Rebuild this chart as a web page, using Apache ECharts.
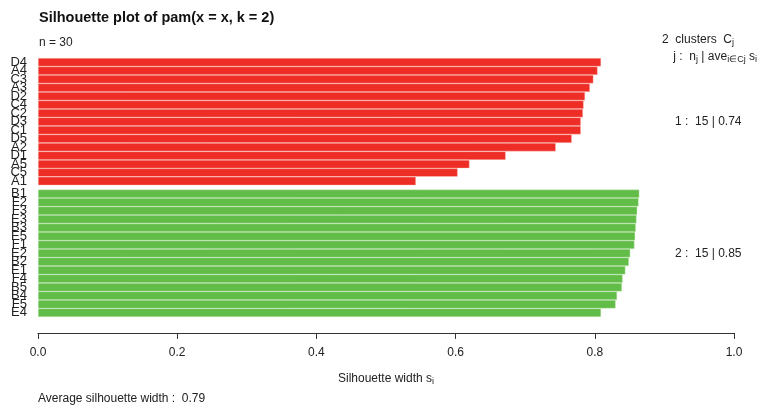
<!DOCTYPE html>
<html>
<head>
<meta charset="utf-8">
<script src="https://cdn.jsdelivr.net/npm/echarts@6/dist/echarts.min.js"></script>
<style>
  html, body { margin: 0; padding: 0; background: #ffffff; }
  #chart { width: 760px; height: 408px; }
</style>
</head>
<body>
<div id="chart"></div>
<script>
// Silhouette widths per observation, sorted within each cluster (top to bottom)
const cluster1Names = ['D4','A4','C3','A3','D2','C4','C2','D3','C1','D5','A2','D1','A5','C5','A1'];
const cluster1Widths = [0.809,0.804,0.798,0.793,0.786,0.784,0.783,0.780,0.780,0.767,0.744,0.672,0.620,0.603,0.543];
const cluster2Names = ['B1','F2','F3','E3','B3','E5','F1','E2','B2','E1','F4','B5','B4','F5','E4'];
const cluster2Widths = [0.864,0.863,0.861,0.860,0.859,0.858,0.857,0.851,0.849,0.844,0.840,0.839,0.832,0.830,0.809];
const xTicks = [0, 0.2, 0.4, 0.6, 0.8, 1.0];

const mean = a => a.reduce((s, v) => s + v, 0) / a.length;
const avg1 = mean(cluster1Widths);
const avg2 = mean(cluster2Widths);
const avgAll = mean(cluster1Widths.concat(cluster2Widths));
const nTotal = cluster1Widths.length + cluster2Widths.length;

const FONT = '"Liberation Sans", Arial, sans-serif';
const RED = '#EE2E26';
const GREEN = '#62BD48';

// layout: one bar unit, clusters separated by half a unit
const plotLeft = 38, plotWidth = 696, plotTop = 58;
const unit = 8.49;
const h1 = cluster1Widths.length * unit;
const h2 = cluster2Widths.length * unit;
const top2 = plotTop + h1 + unit * 0.5;

const chart = echarts.init(document.getElementById('chart'), null, { renderer: 'canvas' });

function catAxis(idx, names) {
  return {
    type: 'category', gridIndex: idx, data: names, inverse: true,
    axisLine: { show: false }, axisTick: { show: false },
    axisLabel: { interval: 0, margin: 11, fontFamily: FONT, fontSize: 13, color: '#222' }
  };
}

const base = { font: '12px ' + FONT, fill: '#222' };
const sub = { font: '9px ' + FONT, fill: '#222', padding: [6, 0, 0, 0] };

function label(x, y, text, align, rich) {
  return {
    type: 'text', x: x, y: y,
    style: { text: text, rich: rich || null, font: '12px ' + FONT, fill: '#222', align: align || 'left', verticalAlign: 'middle' }
  };
}

chart.setOption({
  animation: false,
  backgroundColor: '#ffffff',
  grid: [
    { left: plotLeft, width: plotWidth, top: plotTop, height: h1 },
    { left: plotLeft, width: plotWidth, top: top2, height: h2 }
  ],
  xAxis: [
    { type: 'value', gridIndex: 0, min: 0, max: 1, show: false },
    {
      type: 'value', gridIndex: 1, min: 0, max: 1, interval: 0.2, offset: 16,
      splitLine: { show: false },
      axisLine: { show: true, lineStyle: { color: '#333', width: 1 } },
      axisTick: { show: true, length: 6, lineStyle: { color: '#333' } },
      axisLabel: {
        margin: 14, fontFamily: FONT, fontSize: 12, color: '#222',
        formatter: v => xTicks.some(t => Math.abs(t - v) < 1e-9) ? v.toFixed(1) : ''
      }
    }
  ],
  yAxis: [catAxis(0, cluster1Names), catAxis(1, cluster2Names)],
  series: [
    {
      type: 'bar', xAxisIndex: 0, yAxisIndex: 0, data: cluster1Widths,
      barCategoryGap: '0%',
      itemStyle: { color: RED, borderColor: 'rgba(255,215,210,0.75)', borderWidth: 0.5 }
    },
    {
      type: 'bar', xAxisIndex: 1, yAxisIndex: 1, data: cluster2Widths,
      barCategoryGap: '0%',
      itemStyle: { color: GREEN, borderColor: 'rgba(215,240,205,0.75)', borderWidth: 0.5 }
    }
  ],
  graphic: [
    { type: 'text', x: 39, y: 10, style: { text: 'Silhouette plot of pam(x = x, k = 2)', font: 'bold 14.5px ' + FONT, fill: '#111' } },
    label(39, 43, 'n = ' + nTotal),
    label(734, 40, '{a|2  clusters  C}{s|j}', 'right', { a: base, s: sub }),
    label(757, 57, '{a|j :  n}{s|j}{a| | ave}{s|i∈Cj}{a| s}{s|i}', 'right', { a: base, s: sub }),
    label(675, plotTop + h1 / 2, '1 :  ' + cluster1Widths.length + ' | ' + avg1.toFixed(2)),
    label(675, top2 + h2 / 2, '2 :  ' + cluster2Widths.length + ' | ' + avg2.toFixed(2)),
    label(plotLeft + plotWidth / 2, 379, '{a|Silhouette width s}{s|i}', 'center', { a: base, s: sub }),
    label(38, 399, 'Average silhouette width :  ' + avgAll.toFixed(2))
  ]
});
</script>
</body>
</html>
